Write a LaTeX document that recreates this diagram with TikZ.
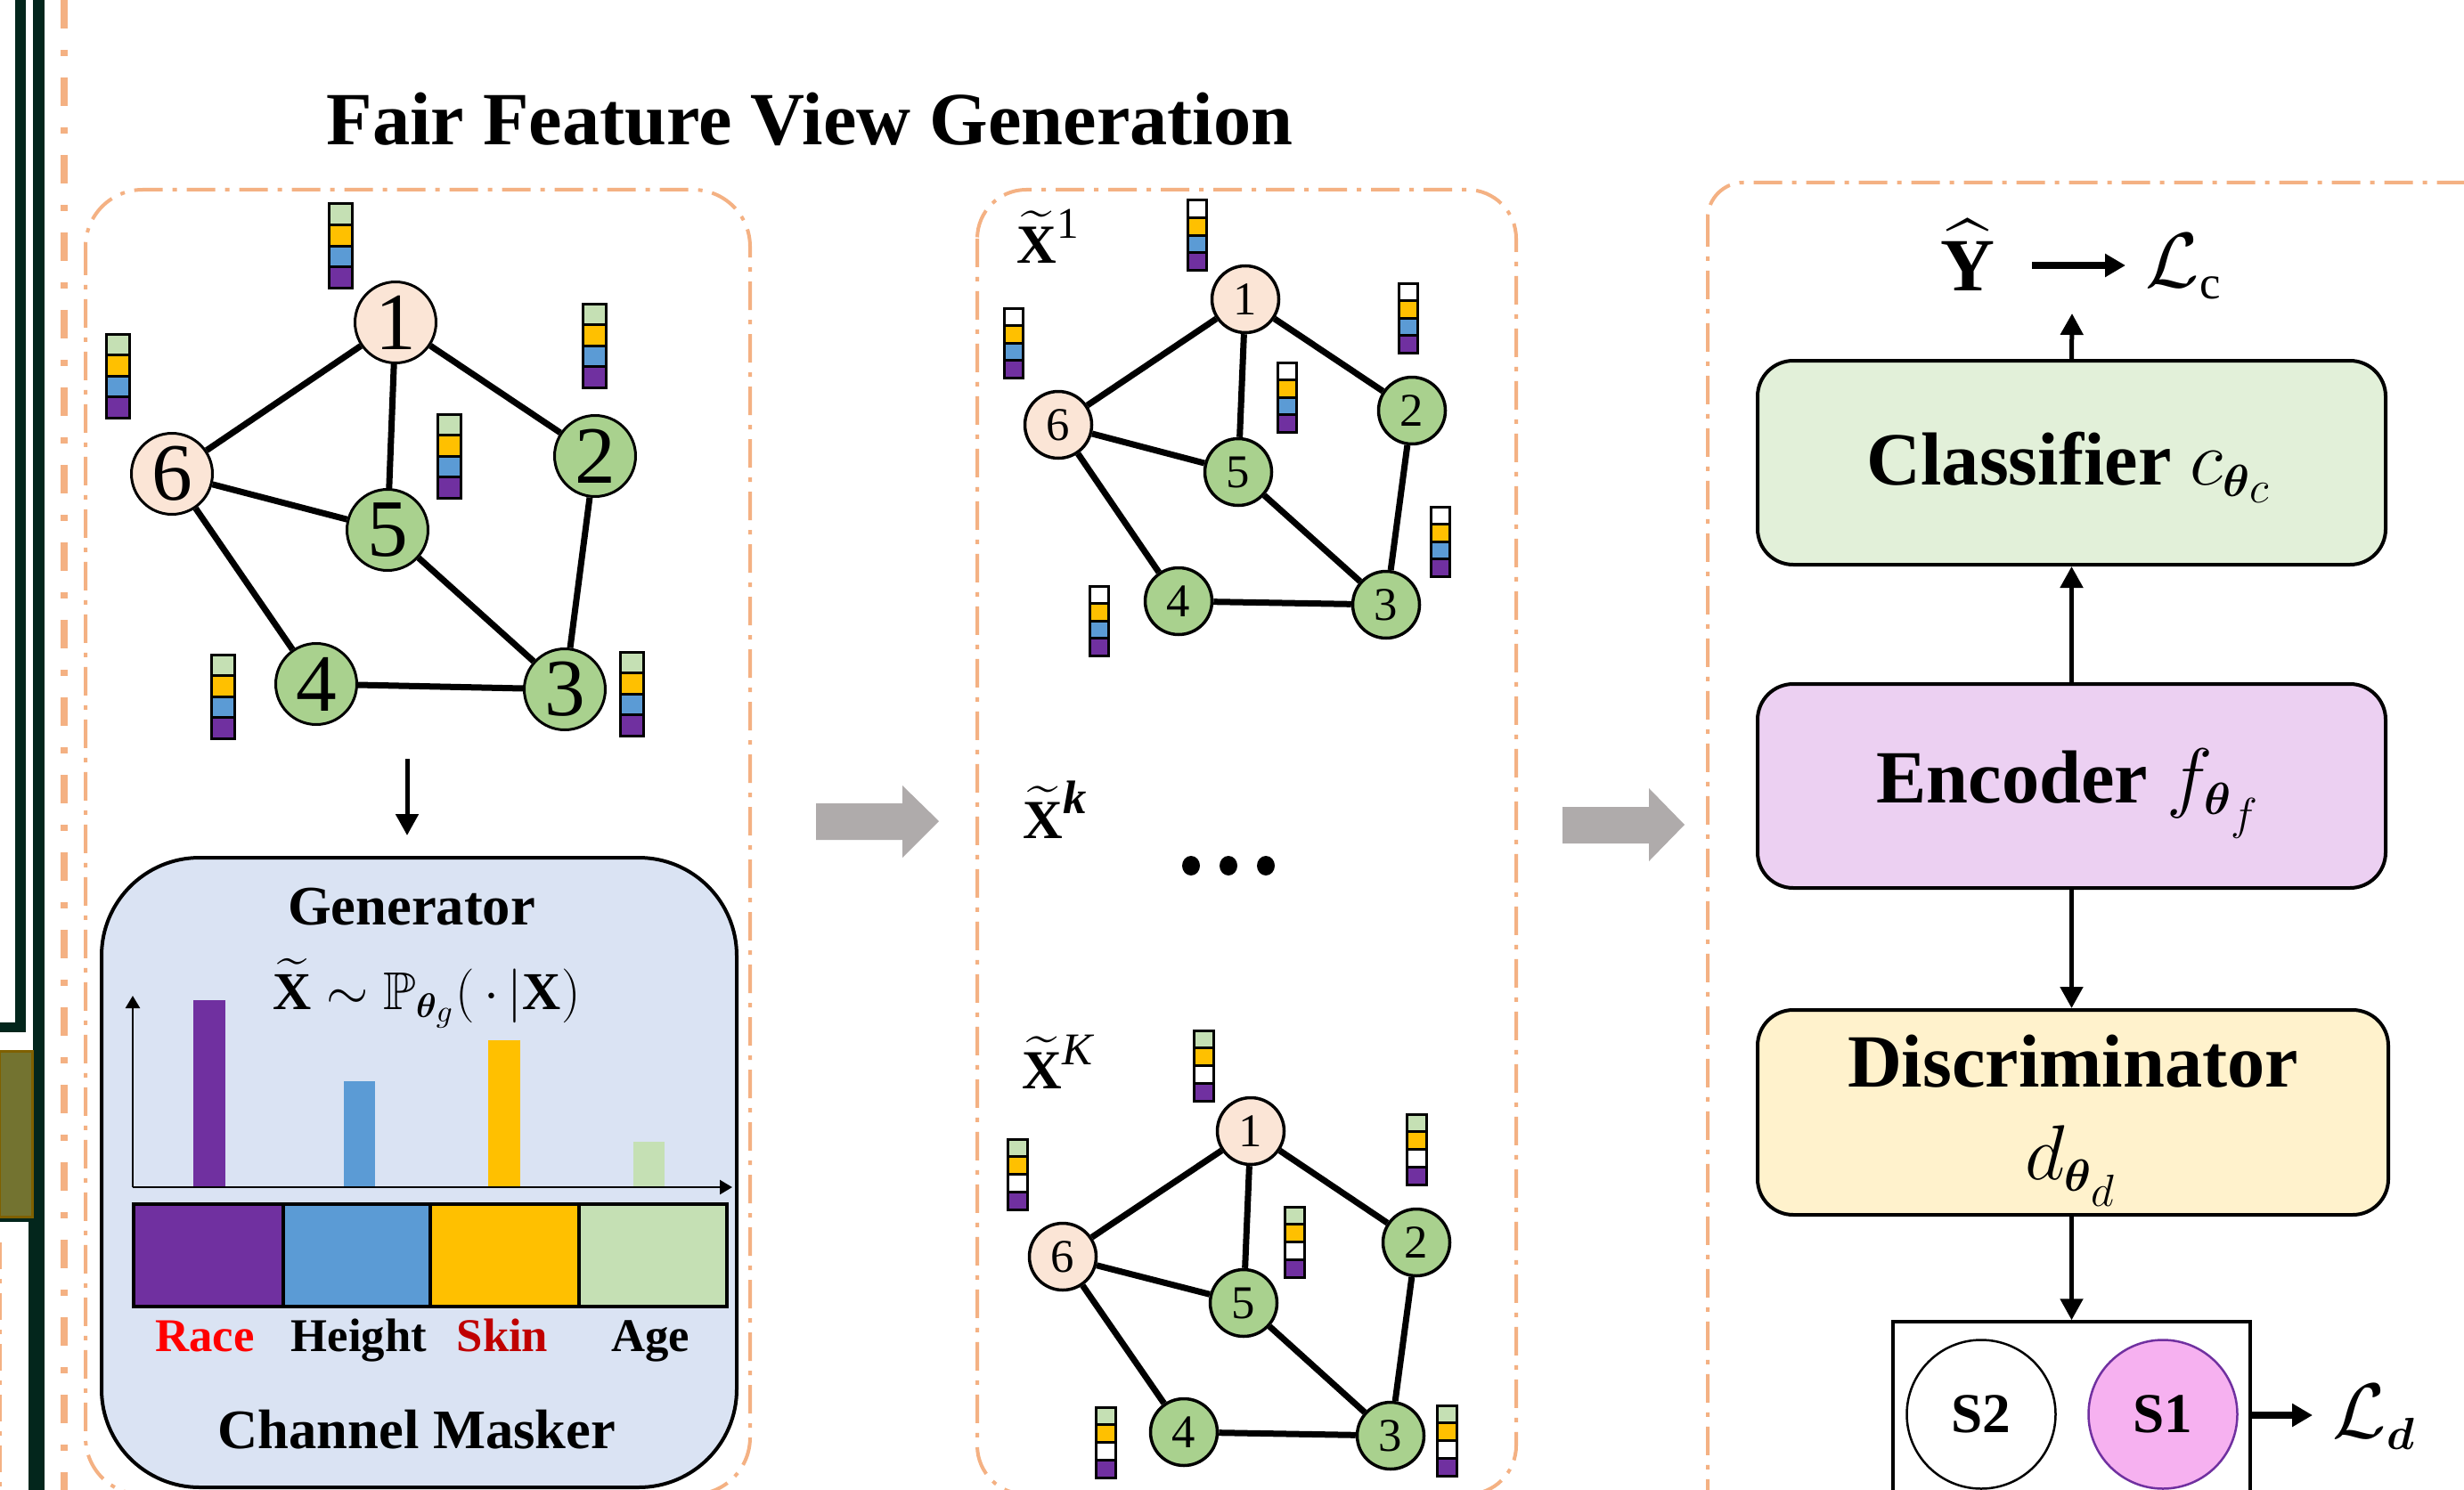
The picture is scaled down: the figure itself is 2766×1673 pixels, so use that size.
\documentclass[tikz,border=0pt]{standalone}
\usepackage{amsmath,amssymb}
\usepackage{fontspec}
\setmainfont{Liberation Serif}
\usetikzlibrary{arrows.meta}
\DeclareMathSizes{24}{24}{15}{14}
\DeclareMathSizes{17}{17}{11}{10}

\definecolor{darkline}{HTML}{03261C}
\definecolor{olivefill}{HTML}{737330}
\definecolor{olivebord}{HTML}{7F6000}
\definecolor{orangeline}{HTML}{F4B183}
\definecolor{peach}{HTML}{FBE5D6}
\definecolor{ngreen}{HTML}{A9D18E}
\definecolor{bpurple}{HTML}{7030A0}
\definecolor{bblue}{HTML}{5B9BD5}
\definecolor{byellow}{HTML}{FFC000}
\definecolor{bgreen}{HTML}{C5E0B4}
\definecolor{genfill}{HTML}{DAE3F3}
\definecolor{clsfill}{HTML}{E2F0D9}
\definecolor{encfill}{HTML}{ECD0F2}
\definecolor{discfill}{HTML}{FFF2CC}
\definecolor{sonefill}{HTML}{F6B1F0}
\definecolor{grayarrow}{HTML}{AFABAB}
\definecolor{skinred}{HTML}{C00000}

\newcommand{\featstack}[8]{%
  \foreach \fcol [count=\fidx from 0] in {#5,#6,#7,#8}{%
    \filldraw[fill=\fcol, draw=black, line width=0.3mm] (#1,{#2+\fidx*#4}) rectangle ++(#3,#4);
  }%
}
\newcommand{\Xt}{\widetilde{\textbf{X}}}

\begin{document}
\begin{tikzpicture}[x=0.1mm, y=-0.1mm,
  panelline/.style={draw=orangeline, line width=0.4mm, dash pattern=on 3.2mm off 1.1mm on 0.5mm off 1.1mm},
  bignode/.style={circle, draw=black, line width=0.3mm, minimum size=9.1mm, inner sep=0pt, font=\fontsize{26}{26}\selectfont},
  smallnode/.style={circle, draw=black, line width=0.35mm, minimum size=7.5mm, inner sep=0pt, font=\fontsize{15}{15}\selectfont},
  gedge/.style={line width=0.7mm},
  blackarrow/.style={line width=0.5mm, -{Triangle[length=2.4mm,width=2.5mm]}},
  thickarrow/.style={line width=0.8mm, -{Triangle[length=2.3mm,width=2.5mm]}},
  axisarrow/.style={line width=0.25mm, -{Triangle[length=1.4mm,width=1.6mm]}},
  modbox/.style={draw=black, line width=0.4mm, rounded corners=4mm, minimum width=70.5mm, minimum height=22.9mm, inner sep=0pt},
  txt/.style={inner sep=0pt, anchor=base}
]
\useasboundingbox (0,0) rectangle (2766,1673);
\clip (0,0) rectangle (2766,1673);
\fill[white] (0,0) rectangle (2766,1673);

% ---------- left edge decorations ----------
\fill[darkline] (17,0) rectangle (29,1159);
\fill[darkline] (0,1148) rectangle (29,1159);
\fill[darkline] (37,0) rectangle (50,1673);
\fill[darkline] (32,1367) rectangle (50,1673);
\fill[darkline] (0,1367) rectangle (37,1372);
\filldraw[fill=olivefill, draw=olivebord, line width=0.3mm] (0,1180) rectangle (36,1366);
\draw[orangeline, line width=0.3mm, dash pattern=on 3mm off 1.1mm on 0.5mm off 1.1mm] (1,1395) -- (1,1673);
\draw[orangeline, line width=0.8mm, dash pattern=on 3.2mm off 2.4mm on 0.7mm off 2.4mm] (72,0) -- (72,1673);

% ---------- title ----------
\node[txt, font=\bfseries\fontsize{24}{28}\selectfont] (title) at (909,163) {Fair Feature View Generation};

% ---------- panels ----------
\draw[panelline, rounded corners=6.4mm] (96,213) rectangle (842,1678);
\draw[panelline, rounded corners=5.5mm] (1097,213) rectangle (1702,1678);
\draw[panelline, rounded corners=4mm] (1917,205) rectangle (2820,1720);

% ---------- graph 1 ----------
\node[bignode, fill=peach] (a1) at (444,362) {1};
\node[bignode, fill=ngreen] (a2) at (668,512) {2};
\node[bignode, fill=ngreen] (a3) at (634,774) {3};
\node[bignode, fill=ngreen] (a4) at (355,768) {4};
\node[bignode, fill=ngreen] (a5) at (435,595) {5};
\node[bignode, fill=peach] (a6) at (193,532) {6};
\draw[gedge] (a1) -- (a6);
\draw[gedge] (a1) -- (a5);
\draw[gedge] (a1) -- (a2);
\draw[gedge] (a6) -- (a5);
\draw[gedge] (a6) -- (a4);
\draw[gedge] (a5) -- (a3);
\draw[gedge] (a2) -- (a3);
\draw[gedge] (a4) -- (a3);
\featstack{369}{229}{26}{23.5}{bgreen}{byellow}{bblue}{bpurple}
\featstack{119}{375}{26}{23.5}{bgreen}{byellow}{bblue}{bpurple}
\featstack{654}{341}{26}{23.5}{bgreen}{byellow}{bblue}{bpurple}
\featstack{491}{465}{26}{23.5}{bgreen}{byellow}{bblue}{bpurple}
\featstack{237}{735}{26}{23.5}{bgreen}{byellow}{bblue}{bpurple}
\featstack{696}{732}{26}{23.5}{bgreen}{byellow}{bblue}{bpurple}

% arrow to generator
\coordinate (gstart) at (457,852);
\coordinate (gend) at (457,938);
\draw[blackarrow] (gstart) -- (gend);

% ---------- generator ----------
\node[draw=black, line width=0.4mm, fill=genfill, rounded corners=11mm, minimum width=71.3mm, minimum height=70.7mm, inner sep=0pt] (gen) at (470.5,1316.5) {};
\node[txt, font=\bfseries\fontsize{17.8}{20}\selectfont] (gentitle) at (462,1038) {Generator};
\node[txt, font=\fontsize{17}{20}\selectfont] (genformula) at (479,1133) {$\Xt\sim\mathbb{P}_{\boldsymbol{\theta}_g}(\,\cdot\,|\textbf{X})$};
\draw[axisarrow] (149,1333) -- (149,1118);
\draw[axisarrow] (149,1333) -- (822,1333);
\fill[bpurple] (217,1123) rectangle (253,1332);
\fill[bblue] (386,1214) rectangle (421,1332);
\fill[byellow] (548,1168) rectangle (584,1332);
\fill[bgreen] (711,1282) rectangle (746,1332);
\filldraw[fill=bpurple, draw=black, line width=0.4mm] (150,1352) rectangle (318,1467);
\filldraw[fill=bblue, draw=black, line width=0.4mm] (318,1352) rectangle (483,1467);
\filldraw[fill=byellow, draw=black, line width=0.4mm] (483,1352) rectangle (650,1467);
\filldraw[fill=bgreen, draw=black, line width=0.4mm] (650,1352) rectangle (816,1467);
\node[txt, font=\bfseries\fontsize{15}{18}\selectfont, text=red] (race) at (230,1517) {Race};
\node[txt, font=\bfseries\fontsize{15}{18}\selectfont] (height) at (403,1517) {Height};
\node[txt, font=\bfseries\fontsize{15}{18}\selectfont, text=skinred] (skin) at (564,1517) {Skin};
\node[txt, font=\bfseries\fontsize{15}{18}\selectfont] (age) at (730,1517) {Age};
\node[txt, font=\bfseries\fontsize{17.8}{20}\selectfont] (masker) at (468,1626) {Channel Masker};

% ---------- gray block arrows ----------
\fill[grayarrow] (916,902) -- (1013,902) -- (1013,882) -- (1054,922) -- (1013,963) -- (1013,943) -- (916,943) -- cycle;
\fill[grayarrow] (1754,906) -- (1851,906) -- (1851,885) -- (1891,926) -- (1851,967) -- (1851,947) -- (1754,947) -- cycle;

% ---------- graph 2 ----------
\node[txt, anchor=base west, font=\fontsize{17.6}{20}\selectfont] (xone) at (1141,295) {$\Xt$\raisebox{2.7mm}{\fontsize{14}{14}\selectfont 1}};
\node[smallnode, fill=peach] (b1) at (1398,336) {1};
\node[smallnode, fill=ngreen] (b2) at (1585,461) {2};
\node[smallnode, fill=ngreen] (b3) at (1556,679) {3};
\node[smallnode, fill=ngreen] (b4) at (1323,675) {4};
\node[smallnode, fill=ngreen] (b5) at (1390,530) {5};
\node[smallnode, fill=peach] (b6) at (1188,477) {6};
\draw[gedge] (b1) -- (b6);
\draw[gedge] (b1) -- (b5);
\draw[gedge] (b1) -- (b2);
\draw[gedge] (b6) -- (b5);
\draw[gedge] (b6) -- (b4);
\draw[gedge] (b5) -- (b3);
\draw[gedge] (b2) -- (b3);
\draw[gedge] (b4) -- (b3);
\featstack{1333}{225}{21}{19.5}{white}{byellow}{bblue}{bpurple}
\featstack{1127}{346}{21}{19.5}{white}{byellow}{bblue}{bpurple}
\featstack{1570}{318}{21}{19.5}{white}{byellow}{bblue}{bpurple}
\featstack{1434}{407}{21}{19.5}{white}{byellow}{bblue}{bpurple}
\featstack{1223}{658}{21}{19.5}{white}{byellow}{bblue}{bpurple}
\featstack{1606}{569}{21}{19.5}{white}{byellow}{bblue}{bpurple}

% ---------- middle ----------
\node[txt, anchor=base west, font=\fontsize{17.6}{20}\selectfont] (xk) at (1148,941) {$\Xt$\raisebox{2.8mm}{\fontsize{15}{15}\selectfont\bfseries\itshape k}};
\fill[black] (1337,972) ellipse [x radius=10, y radius=11];
\fill[black] (1379,972) ellipse [x radius=10, y radius=11];
\fill[black] (1421,972) ellipse [x radius=10, y radius=11];

% ---------- graph 3 ----------
\node[txt, anchor=base west, font=\fontsize{17.6}{20}\selectfont] (xK) at (1147,1222) {$\Xt$\raisebox{2.7mm}{\fontsize{14.5}{14.5}\selectfont\itshape K}};
\node[smallnode, fill=peach] (c1) at (1404,1270) {1};
\node[smallnode, fill=ngreen] (c2) at (1590,1395) {2};
\node[smallnode, fill=ngreen] (c3) at (1561,1612) {3};
\node[smallnode, fill=ngreen] (c4) at (1329,1608) {4};
\node[smallnode, fill=ngreen] (c5) at (1396,1463) {5};
\node[smallnode, fill=peach] (c6) at (1193,1411) {6};
\draw[gedge] (c1) -- (c6);
\draw[gedge] (c1) -- (c5);
\draw[gedge] (c1) -- (c2);
\draw[gedge] (c6) -- (c5);
\draw[gedge] (c6) -- (c4);
\draw[gedge] (c5) -- (c3);
\draw[gedge] (c2) -- (c3);
\draw[gedge] (c4) -- (c3);
\featstack{1340}{1157}{22}{19.75}{bgreen}{byellow}{white}{bpurple}
\featstack{1131}{1279}{22}{19.75}{bgreen}{byellow}{white}{bpurple}
\featstack{1579}{1251}{22}{19.75}{bgreen}{byellow}{white}{bpurple}
\featstack{1442}{1355}{22}{19.75}{bgreen}{byellow}{white}{bpurple}
\featstack{1230}{1580}{22}{19.75}{bgreen}{byellow}{white}{bpurple}
\featstack{1613}{1578}{22}{19.75}{bgreen}{byellow}{white}{bpurple}

% ---------- right column ----------
\node[modbox, fill=clsfill] (cls) at (2325.5,519.5) {};
\node[modbox, fill=encfill] (enc) at (2325.5,882.5) {};
\node[modbox, fill=discfill, minimum width=70.8mm, minimum height=23mm] (disc) at (2327,1249) {};
\node[txt, font=\bfseries\fontsize{24}{28}\selectfont] (clstext) at (2323,544) {Classifier $c_{\boldsymbol{\theta}_c}$};
\node[txt, font=\bfseries\fontsize{24}{28}\selectfont] (enctext) at (2322,901) {Encoder $f_{\boldsymbol{\theta}_f}$};
\node[txt, font=\bfseries\fontsize{24}{28}\selectfont] (disctext) at (2327,1220) {Discriminator};
\node[txt, font=\fontsize{24}{28}\selectfont] (discmath) at (2325,1324) {$d_{\boldsymbol{\theta}_d}$};

\node[txt, font=\fontsize{24}{28}\selectfont] (yhat) at (2209,326) {$\widehat{\textbf{Y}}$};
\node[txt, anchor=base west, font=\fontsize{24}{28}\selectfont] (lc) at (2408,322) {$\mathcal{L}_{\mathrm{c}}$};
\coordinate (ylevel) at (2300,298);
\draw[thickarrow, shorten <=4.1mm, shorten >=2.2mm] (yhat.east |- ylevel) -- (lc.west |- ylevel);
\coordinate (ytip) at (2326,352);
\draw[blackarrow] (cls.north) -- (ytip);
\draw[blackarrow] (enc.north) -- (cls.south);
\draw[blackarrow] (enc.south) -- (enc.south |- disc.north);

\node[draw=black, line width=0.35mm, minimum width=40.1mm, minimum height=21.6mm, inner sep=0pt] (sbox) at (2325.5,1592) {};
\draw[blackarrow] (disc.south -| sbox.north) -- (sbox.north);
\node[circle, draw=black, line width=0.25mm, fill=white, minimum size=16.7mm, inner sep=0pt, font=\bfseries\fontsize{18}{20}\selectfont] (s2) at (2224,1588) {S2};
\node[circle, draw=bpurple, line width=0.25mm, fill=sonefill, minimum size=16.7mm, inner sep=0pt, font=\bfseries\fontsize{18}{20}\selectfont] (s1) at (2428,1588) {S1};
\node[txt, anchor=base west, font=\fontsize{24}{28}\selectfont] (ld) at (2618,1614) {$\mathcal{L}_{\boldsymbol{d}}$};
\coordinate (ldtip) at (2596,1589);
\draw[thickarrow] (sbox.east |- ldtip) -- (ldtip);
\end{tikzpicture}
\end{document}
